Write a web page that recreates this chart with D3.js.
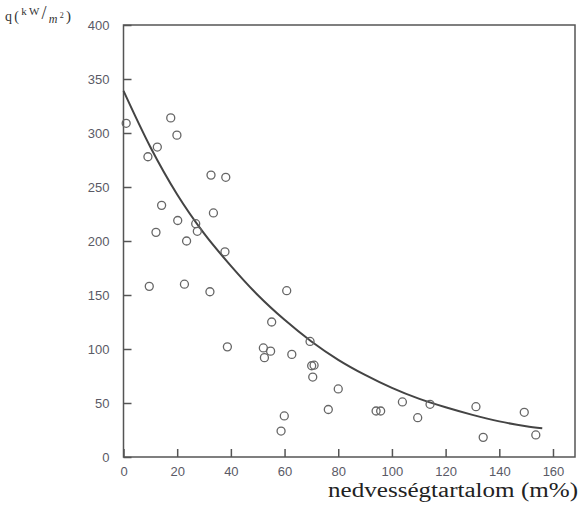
<!DOCTYPE html>
<html>
<head>
<meta charset="utf-8">
<script src="https://cdn.jsdelivr.net/npm/d3@7/dist/d3.min.js"></script>
<style>
html,body{margin:0;padding:0;background:#fff;}
svg{display:block;}
</style>
</head>
<body>
<svg id="chart" width="588" height="518"></svg>
<script>
// Scatter observations: moisture content (m%) and q (kW/m2)
const moisture = [1.0, 9.1, 12.6, 17.6, 19.9, 14.2, 33.5, 20.2, 26.9, 27.5, 12.1, 23.5, 37.8, 9.6, 22.7, 32.2,
  32.6, 38.1, 38.7, 60.8, 55.2, 52.1, 54.8, 52.5, 62.7, 69.5, 70.1, 71.0, 70.5, 80.0, 76.3, 59.9, 58.7,
  94.1, 95.8, 103.9, 109.6, 114.2, 131.3, 134.0, 149.3, 153.6];
const heatFlux = [309, 278, 287, 314, 298, 233, 226, 219, 216, 209, 208, 200, 190, 158, 160, 153,
  261, 259, 102, 154, 125, 101, 98, 92, 95, 107, 84.5, 85, 74, 63, 44, 38, 24,
  42.6, 42.6, 51, 36.4, 48.8, 46.6, 18.2, 41.4, 20.4];

// Fitted curve, points
const curveX = [0, 10, 20, 30, 40, 50, 60, 70, 80, 90, 100, 110, 120, 130, 140, 150, 156];
const curveY = [339, 287, 243, 207, 177, 150, 127, 107, 90, 76, 64, 54, 46, 39, 33, 28.5, 26.5];

const xTicks = [0, 20, 40, 60, 80, 100, 120, 140, 160];
const yTicks = [0, 50, 100, 150, 200, 250, 300, 350, 400];
const xTitle = "nedvességtartalom (m%)";

(function () {
const svg = d3.select("#chart");
const pL = 123.5, pR = 575, pT = 25, pB = 457;

const x = d3.scaleLinear().domain([0, 168.2]).range([pL, pR]);
const y = d3.scaleLinear().domain([0, 400]).range([pB, pT]);

const axisColor = "#555";

// frame
svg.append("rect")
  .attr("x", pL).attr("y", pT)
  .attr("width", pR - pL).attr("height", pB - pT)
  .attr("fill", "none").attr("stroke", axisColor).attr("stroke-width", 1.5);

// axes
const xAxis = d3.axisBottom(x).tickValues(xTicks).tickSize(-8).tickPadding(10).tickFormat(d3.format("d"));
const yAxis = d3.axisLeft(y).tickValues(yTicks).tickSize(-8).tickPadding(14).tickFormat(d3.format("d"));

const gx = svg.append("g").attr("transform", `translate(0,${pB})`).call(xAxis);
const gy = svg.append("g").attr("transform", `translate(${pL},0)`).call(yAxis);
[gx, gy].forEach(g => {
  g.select(".domain").remove();
  g.selectAll(".tick line").attr("stroke", axisColor).attr("stroke-width", 1.5);
  g.selectAll(".tick text")
    .attr("fill", "#5a5a66")
    .style("font-family", "'Liberation Sans', Arial, sans-serif")
    .style("font-size", "13px");
});

// curve
const line = d3.line().x((d, i) => x(curveX[i])).y(d => y(d)).curve(d3.curveMonotoneX);
svg.append("path")
  .datum(curveY)
  .attr("d", line)
  .attr("fill", "none")
  .attr("stroke", "#444")
  .attr("stroke-width", 2);

// points
svg.append("g").selectAll("circle")
  .data(moisture)
  .join("circle")
  .attr("cx", d => x(d))
  .attr("cy", (d, i) => y(heatFlux[i]))
  .attr("r", 4)
  .attr("fill", "none")
  .attr("stroke", "#666")
  .attr("stroke-width", 1.3);

// x title
svg.append("text")
  .attr("x", 328).attr("y", 497)
  .attr("fill", "#222")
  .attr("textLength", 250)
  .attr("lengthAdjust", "spacingAndGlyphs")
  .style("font-family", "'Liberation Serif', 'Times New Roman', serif")
  .style("font-size", "20px")
  .text(xTitle);

// y title: q(kW/m²)
const yt = svg.append("text")
  .attr("x", 5).attr("y", 21)
  .attr("fill", "#333")
  .attr("textLength", 66)
  .attr("lengthAdjust", "spacing")
  .style("font-family", "'Liberation Serif', 'Times New Roman', serif")
  .style("font-size", "14px");
yt.append("tspan").text("q(");
yt.append("tspan").attr("dy", -6).style("font-size", "11px").text("kW");
yt.append("tspan").attr("dy", 4).style("font-size", "18px").text("/");
yt.append("tspan").attr("dy", 4).style("font-size", "12px").style("font-style", "italic").text("m");
yt.append("tspan").attr("dy", -5).style("font-size", "8px").text("2");
yt.append("tspan").attr("dy", 3).style("font-size", "15px").text(")");
})();
</script>
</body>
</html>
